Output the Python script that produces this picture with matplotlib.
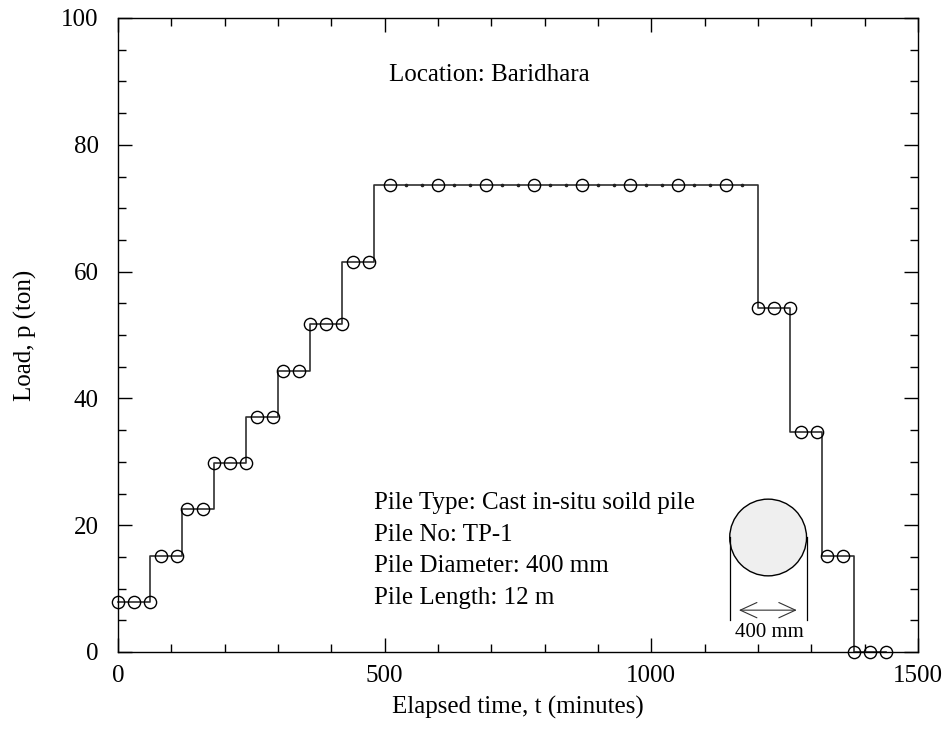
import matplotlib
matplotlib.use("Agg")
import matplotlib.pyplot as plt
from matplotlib.patches import Ellipse, FancyArrowPatch, ArrowStyle
from matplotlib.ticker import MultipleLocator

plt.rcParams["font.family"] = ["Liberation Serif", "DejaVu Serif"]
plt.rcParams["font.size"] = 18

# Load stages: start time of each increment (min) and the load held (ton)
step_times = [0, 60, 120, 180, 240, 300, 360, 420, 480, 1200, 1260, 1320, 1380]
step_loads = [7.9, 15.1, 22.5, 29.8, 37.1, 44.4, 51.8, 61.5, 73.7, 54.2, 34.7, 15.1, 0.0]
end_time = 1440

# Recorded readings (open circles)
read_times = [0, 30, 60, 80, 110, 130, 160, 180, 210, 240, 260, 290, 310, 340,
              360, 390, 420, 440, 470, 510, 600, 690, 780, 870, 960, 1050, 1140,
              1200, 1230, 1260, 1280, 1310, 1330, 1360, 1380, 1410, 1440]
read_loads = [7.9, 7.9, 7.9, 15.1, 15.1, 22.5, 22.5, 29.8, 29.8, 29.8, 37.1, 37.1,
              44.4, 44.4, 51.8, 51.8, 51.8, 61.5, 61.5, 73.7, 73.7, 73.7, 73.7,
              73.7, 73.7, 73.7, 73.7, 54.2, 54.2, 54.2, 34.7, 34.7, 15.1, 15.1,
              0.0, 0.0, 0.0]

# Intermediate readings on the held maximum load (small dots on the line)
hold_times = [540, 570, 630, 660, 720, 750, 810, 840, 900, 930, 990, 1020, 1080, 1110, 1170]
hold_load = 73.7

info_lines = ["Pile Type: Cast in-situ soild pile",
              "Pile No: TP-1",
              "Pile Diameter: 400 mm",
              "Pile Length: 12 m"]

fig = plt.figure(figsize=(9.52, 7.51), dpi=100)
ax = fig.add_axes([118 / 952, 1 - 652 / 751, 800 / 952, 634 / 751])

line_t = step_times + [end_time]
line_p = step_loads + [step_loads[-1]]
ax.step(line_t, line_p, where="post", color="#303030", lw=1.2, zorder=2, clip_on=False)
ax.plot(hold_times, [hold_load] * len(hold_times), ls="none", marker="o", ms=1.6,
        color="#202020", zorder=3)
ax.plot(read_times, read_loads, ls="none", marker="o", ms=8.8, mfc="none",
        mec="black", mew=1.0, zorder=4, clip_on=False)

ax.set_xlim(0, 1500)
ax.set_ylim(0, 100)
ax.xaxis.set_major_locator(MultipleLocator(500))
ax.xaxis.set_minor_locator(MultipleLocator(100))
ax.yaxis.set_major_locator(MultipleLocator(20))
ax.yaxis.set_minor_locator(MultipleLocator(5))
ax.tick_params(which="both", direction="in", top=True, right=True, width=1.0)
ax.tick_params(which="major", length=10)
ax.tick_params(which="minor", length=5.5)
ax.tick_params(axis="x", pad=9)
ax.tick_params(axis="y", pad=14)
for s in ax.spines.values():
    s.set_linewidth(1.0)

ax.set_xlabel("Elapsed time, t (minutes)")
ax.set_ylabel("Load, p (ton)")
ax.xaxis.set_label_coords(0.5, -0.0868)
ax.xaxis.label.set_va("center")
ax.yaxis.set_label_coords(-0.116, 0.5)
ax.yaxis.label.set_va("center")

ax.text(508, 91.0, "Location: Baridhara", ha="left", va="center")
for i, s in enumerate(info_lines):
    ax.text(480, 23.5 - 5.0 * i, s, ha="left", va="center")

# Pile cross-section sketch
cx, cy = 1219, 18.06
w, h = 144, 12.1
ax.add_patch(Ellipse((cx, cy), w, h, facecolor="#efefef", edgecolor="black", lw=1.0, zorder=3))
for xe in (cx - w / 2, cx + w / 2):
    ax.plot([xe, xe], [cy, 5.0], color="black", lw=0.9, zorder=3)
arrow = FancyArrowPatch((cx - w / 2 + 12, 6.6), (cx + w / 2 - 13, 6.6),
                        arrowstyle=ArrowStyle("<->", head_length=12, head_width=5.5),
                        mutation_scale=1, color="#333333", lw=0.8, zorder=3)
ax.add_patch(arrow)
ax.text(cx + 3, 3.15, "400 mm", ha="center", va="center", fontsize=15)

fig.savefig("out.png", dpi=100)
